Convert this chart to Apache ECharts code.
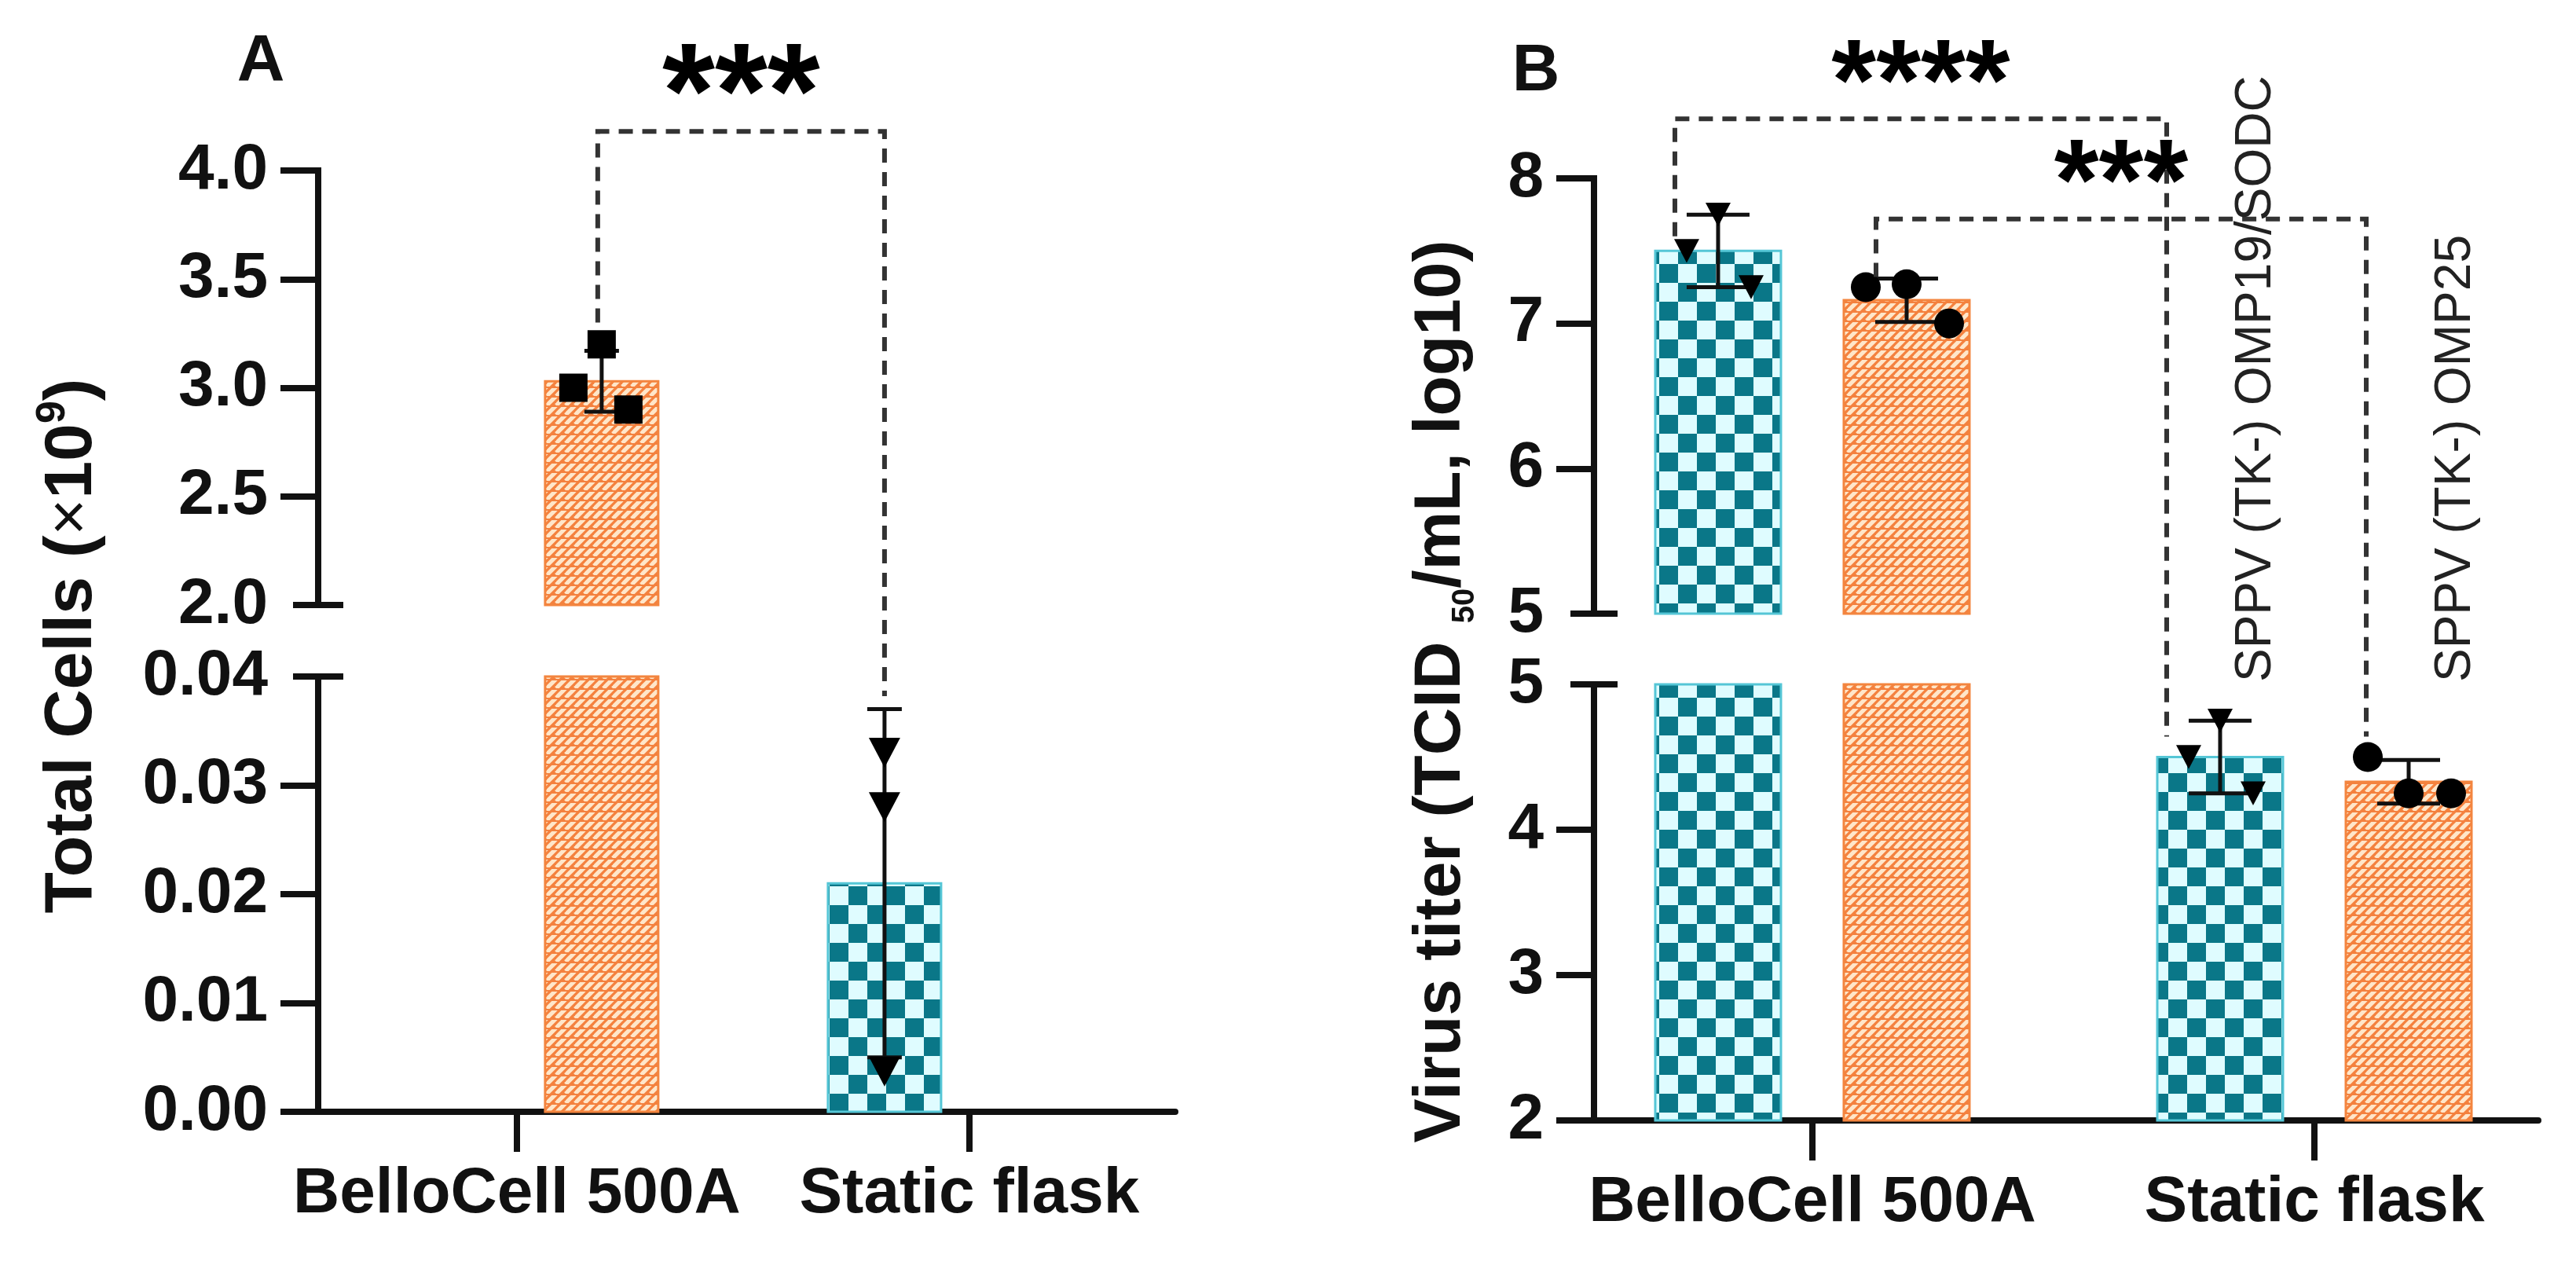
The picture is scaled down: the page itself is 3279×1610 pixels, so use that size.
<!DOCTYPE html>
<html>
<head>
<meta charset="utf-8">
<script src="https://cdn.jsdelivr.net/npm/echarts@6/dist/echarts.min.js"></script>
<style>
html,body{margin:0;padding:0;background:#ffffff;}
#c{width:3279px;height:1610px;}
</style>
</head>
<body>
<div id="c"></div>
<script>
// ---------------- DATA ----------------
const categories = ['BelloCell 500A', 'Static flask'];

// Panel A (series 0 = teal checker, series 1 = orange hatch)
const aUpperTicks = [2.0, 2.5, 3.0, 3.5, 4.0];
const aLowerTicks = [0.00, 0.01, 0.02, 0.03, 0.04];
const aTealMean = [null, 0.021];
const aTealSD = [null, 0.016];
const aTealPoints = [[], [0.033, 0.028, 0.0037]];
const aOrangeMean = [3.03, null];
const aOrangeSD = [0.14, null];
const aOrangePoints = [[3.0, 3.2, 2.9], []];

// Panel B
const bUpperTicks = [5, 6, 7, 8];
const bLowerTicks = [2, 3, 4, 5];
const bTealMean = [7.5, 4.5];
const bTealSD = [0.25, 0.25];
const bTealPoints = [[7.5, 7.75, 7.25], [4.5, 4.75, 4.25]];
const bOrangeMean = [7.16, 4.33];
const bOrangeSD = [0.15, 0.15];
const bOrangePoints = [[7.25, 7.27, 7.0], [4.5, 4.25, 4.25]];

const bStrainLabels = ['SPPV (TK-) OMP19/SODC', 'SPPV (TK-) OMP25'];
const aTitle = 'Total Cells';
const bTitle = 'Virus titer';
const sigA = ['***'];
const sigB = ['****', '***'];

// ---------------- STYLE ----------------
const FONT = '"Liberation Sans", Arial, sans-serif';
const INK = '#111111';

function makeChecker() {
  const s = 24, c = document.createElement('canvas');
  c.width = c.height = s * 2;
  const g = c.getContext('2d');
  g.fillStyle = '#dffcff'; g.fillRect(0, 0, 2 * s, 2 * s);
  g.fillStyle = '#0a7788'; g.fillRect(0, 0, s, s); g.fillRect(s, s, s, s);
  return c;
}
function makeHatch() {
  const p = 12, c = document.createElement('canvas');
  c.width = c.height = p;
  const g = c.getContext('2d');
  g.fillStyle = '#f4813e'; g.fillRect(0, 0, p, p);
  g.strokeStyle = '#ffe6c9'; g.lineWidth = 5.2;
  for (let k = 0; k <= 2; k++) {
    g.beginPath(); g.moveTo(k * p, 0); g.lineTo(k * p - p, p); g.stroke();
  }
  g.fillStyle = '#f4813e'; g.fillRect(0, 0, p, 2);
  return c;
}
const tealFill = { image: makeChecker(), repeat: 'repeat' };
const orangeFill = { image: makeHatch(), repeat: 'repeat' };

const panels = {
  A: { left: 405, width: 1091, upper: { top: 217, height: 553 }, lower: { top: 861, height: 554 },
       xMin: -0.439, xMax: 1.455, barW: 144, off: [-108, 108], capHalf: 22, axisCap: 32 },
  B: { left: 2029, width: 1202, upper: { top: 227, height: 554 }, lower: { top: 871, height: 555 },
       xMin: -0.435, xMax: 1.446, barW: 160, off: [-120, 120], capHalf: 40, axisCap: 30 }
};

// grid index: 0 A-upper, 1 A-lower, 2 B-upper, 3 B-lower
const grids = [
  { left: panels.A.left, width: panels.A.width, top: panels.A.upper.top, height: panels.A.upper.height },
  { left: panels.A.left, width: panels.A.width, top: panels.A.lower.top, height: panels.A.lower.height },
  { left: panels.B.left, width: panels.B.width, top: panels.B.upper.top, height: panels.B.upper.height },
  { left: panels.B.left, width: panels.B.width, top: panels.B.lower.top, height: panels.B.lower.height }
];
const ranges = [
  [aUpperTicks[0], aUpperTicks[aUpperTicks.length - 1]],
  [aLowerTicks[0], aLowerTicks[aLowerTicks.length - 1]],
  [bUpperTicks[0], bUpperTicks[bUpperTicks.length - 1]],
  [bLowerTicks[0], bLowerTicks[bLowerTicks.length - 1]]
];

function yAxisCfg(gi, ticks, tickVals, interval, fmt) {
  return {
    type: 'value', gridIndex: gi, min: ticks[0], max: ticks[ticks.length - 1], interval: interval,
    axisLine: { show: true, onZero: false, lineStyle: { color: INK, width: 8, cap: 'square' } },
    axisTick: { show: true, length: 48, customValues: tickVals, lineStyle: { color: INK, width: 8 } },
    axisLabel: { show: true, customValues: ticks, formatter: fmt, margin: 64,
      fontFamily: FONT, fontWeight: 'bold', fontSize: 82, color: INK },
    splitLine: { show: false }
  };
}
function xAxisCfg(gi, p, show) {
  return {
    type: 'value', gridIndex: gi, min: p.xMin, max: p.xMax, show: show,
    axisLine: { show: true, onZero: false, lineStyle: { color: INK, width: 8 } },
    axisTick: { show: true, length: 51, customValues: [0, 1], lineStyle: { color: INK, width: 8 } },
    axisLabel: { show: true, customValues: [0, 1], formatter: v => categories[Math.round(v)], margin: 64,
      fontFamily: FONT, fontWeight: 'bold', fontSize: 82, color: INK },
    splitLine: { show: false }
  };
}

function markerShape(kind, x, y, sz) {
  const st = { fill: '#000' };
  if (kind === 'square') return { type: 'rect', shape: { x: x - sz / 2, y: y - sz / 2, width: sz, height: sz }, style: st };
  if (kind === 'circle') return { type: 'circle', shape: { cx: x, cy: y, r: sz / 2 }, style: st };
  const h = sz * 0.95;
  return { type: 'polygon', shape: { points: [[x - sz / 2, y - h / 2], [x + sz / 2, y - h / 2], [x, y + h / 2]] }, style: st };
}

function groupSeries(gi, p, si, means, sds, points, jitter, marker, msize, fill, stroke) {
  const [yMin, yMax] = ranges[gi];
  const data = [];
  means.forEach((m, i) => { if (m !== null) data.push([i, m, sds[i]]); });
  return {
    type: 'custom', coordinateSystem: 'cartesian2d', xAxisIndex: gi, yAxisIndex: gi,
    silent: true, clip: false, data: data,
    renderItem: function (params, api) {
      const cat = api.value(0), mean = api.value(1), sd = api.value(2);
      const cx = api.coord([cat, yMin])[0] + p.off[si];
      const children = [];
      if (mean > yMin) {
        const yb = api.coord([cat, yMin])[1];
        const yt = api.coord([cat, Math.min(mean, yMax)])[1];
        children.push({ type: 'rect', shape: { x: cx - p.barW / 2, y: yt, width: p.barW, height: yb - yt },
          style: { fill: fill, stroke: stroke, lineWidth: 3 } });
      }
      const lo = mean - sd, hi = mean + sd;
      const a = Math.max(lo, yMin), b = Math.min(hi, yMax);
      const est = { stroke: '#111', lineWidth: 5 };
      if (b > a) {
        children.push({ type: 'line', shape: { x1: cx, y1: api.coord([cat, a])[1], x2: cx, y2: api.coord([cat, b])[1] }, style: est });
      }
      [lo, hi].forEach(v => {
        if (v >= yMin && v <= yMax) {
          const yy = api.coord([cat, v])[1];
          children.push({ type: 'line', shape: { x1: cx - p.capHalf, y1: yy, x2: cx + p.capHalf, y2: yy }, style: est });
        }
      });
      (points[cat] || []).forEach((v, j) => {
        if (v >= yMin && v <= yMax) {
          children.push(markerShape(marker, cx + jitter[j], api.coord([cat, v])[1], msize));
        }
      });
      return { type: 'group', children: children };
    }
  };
}

// axis break caps (T-shaped ends of each broken axis segment)
function capSeries(gi, p, capValue) {
  return {
    type: 'custom', coordinateSystem: 'cartesian2d', xAxisIndex: gi, yAxisIndex: gi,
    silent: true, clip: false, data: [[p.xMin, capValue]],
    renderItem: function (params, api) {
      const pt = api.coord([api.value(0), api.value(1)]);
      return { type: 'line', shape: { x1: pt[0] - p.axisCap, y1: pt[1], x2: pt[0] + p.axisCap, y2: pt[1] },
        style: { stroke: INK, lineWidth: 8 } };
    }
  };
}

const fmt1 = v => v.toFixed(1);
const fmt2 = v => v.toFixed(2);
const fmt0 = v => String(Math.round(v));

const option = {
  animation: false,
  backgroundColor: '#ffffff',
  grid: grids.map(g => Object.assign({ containLabel: false }, g)),
  xAxis: [
    xAxisCfg(0, panels.A, false), xAxisCfg(1, panels.A, true),
    xAxisCfg(2, panels.B, false), xAxisCfg(3, panels.B, true)
  ],
  yAxis: [
    yAxisCfg(0, aUpperTicks, aUpperTicks.slice(1), 0.5, fmt1),
    yAxisCfg(1, aLowerTicks, aLowerTicks.slice(0, -1), 0.01, fmt2),
    yAxisCfg(2, bUpperTicks, bUpperTicks.slice(1), 1, fmt0),
    yAxisCfg(3, bLowerTicks, bLowerTicks.slice(0, -1), 1, fmt0)
  ],
  series: [
    groupSeries(0, panels.A, 0, aTealMean, aTealSD, aTealPoints, [0, 0, 0], 'triangle', 40, tealFill, '#55c6d6'),
    groupSeries(1, panels.A, 0, aTealMean, aTealSD, aTealPoints, [0, 0, 0], 'triangle', 40, tealFill, '#55c6d6'),
    groupSeries(0, panels.A, 1, aOrangeMean, aOrangeSD, aOrangePoints, [-36, 0, 34], 'square', 36, orangeFill, '#f3853f'),
    groupSeries(1, panels.A, 1, aOrangeMean, aOrangeSD, aOrangePoints, [-36, 0, 34], 'square', 36, orangeFill, '#f3853f'),
    groupSeries(2, panels.B, 0, bTealMean, bTealSD, bTealPoints, [-40, 0, 42], 'triangle', 32, tealFill, '#55c6d6'),
    groupSeries(3, panels.B, 0, bTealMean, bTealSD, bTealPoints, [-40, 0, 42], 'triangle', 32, tealFill, '#55c6d6'),
    groupSeries(2, panels.B, 1, bOrangeMean, bOrangeSD, bOrangePoints, [-52, 0, 54], 'circle', 38, orangeFill, '#f3853f'),
    groupSeries(3, panels.B, 1, bOrangeMean, bOrangeSD, bOrangePoints, [-52, 0, 54], 'circle', 38, orangeFill, '#f3853f'),
    capSeries(0, panels.A, aUpperTicks[0]),
    capSeries(1, panels.A, aLowerTicks[aLowerTicks.length - 1]),
    capSeries(2, panels.B, bUpperTicks[0]),
    capSeries(3, panels.B, bLowerTicks[bLowerTicks.length - 1])
  ]
};

const chart = echarts.init(document.getElementById('c'), null, { renderer: 'canvas', width: 3279, height: 1610 });
chart.setOption(option);

// ---------------- ANNOTATIONS (positioned through the axes) ----------------
const toPx = (gi, x, y) => chart.convertToPixel({ gridIndex: gi }, [x, y]);
const brackets = [
  { text: sigA[0], size: 172, level: [0, 4.18], left: { gi: 0, p: panels.A, cat: 0, s: 1, y: 3.30, dx: -5 },
    right: { gi: 1, p: panels.A, cat: 1, s: 0, y: 0.0382, dx: 0 } },
  { text: sigB[0], size: 146, level: [2, 8.41], left: { gi: 2, p: panels.B, cat: 0, s: 0, y: 7.60, dx: -55 },
    right: { gi: 3, p: panels.B, cat: 1, s: 0, y: 4.64, dx: -68 } },
  { text: sigB[1], size: 146, level: [2, 7.72], left: { gi: 2, p: panels.B, cat: 0, s: 1, y: 7.32, dx: -39 },
    right: { gi: 3, p: panels.B, cat: 1, s: 1, y: 4.64, dx: -54 } }
];
const graphics = [];
brackets.forEach(b => {
  const yl = toPx(b.level[0], 0, b.level[1])[1];
  const L = toPx(b.left.gi, b.left.cat, b.left.y), R = toPx(b.right.gi, b.right.cat, b.right.y);
  const xl = L[0] + b.left.p.off[b.left.s] + b.left.dx;
  const xr = R[0] + b.right.p.off[b.right.s] + b.right.dx;
  graphics.push({ type: 'polyline', silent: true, z: 50,
    shape: { points: [[xl, L[1]], [xl, yl], [xr, yl], [xr, R[1]]] },
    style: { stroke: '#333', lineWidth: 6, lineDash: [18, 12], fill: null } });
  graphics.push({ type: 'text', silent: true, z: 51, x: (xl + xr) / 2, y: yl - 40,
    style: { text: b.text, fontFamily: FONT, fontWeight: 'bold', fontSize: b.size, fill: '#000',
      align: 'center', verticalAlign: 'middle' } });
});
// strain labels above the static-flask groups
bStrainLabels.forEach((t, s) => {
  const pt = toPx(3, 1, bLowerTicks[bLowerTicks.length - 1]);
  const dx = [46, 60][s];
  graphics.push({ type: 'text', silent: true, z: 52, x: pt[0] + panels.B.off[s] + dx, y: pt[1] - 3,
    rotation: Math.PI / 2,
    style: { text: t, fontFamily: FONT, fontSize: 64, fill: '#222', align: 'left', verticalAlign: 'middle' } });
});
// panel letters
graphics.push({ type: 'text', silent: true, x: 332, y: 80,
  style: { text: 'A', fontFamily: FONT, fontWeight: 'bold', fontSize: 84, fill: INK, align: 'center', verticalAlign: 'middle' } });
graphics.push({ type: 'text', silent: true, x: 1955, y: 92,
  style: { text: 'B', fontFamily: FONT, fontWeight: 'bold', fontSize: 84, fill: INK, align: 'center', verticalAlign: 'middle' } });
// axis titles
graphics.push({ type: 'text', silent: true, x: 92, y: 822, rotation: Math.PI / 2,
  style: { text: '{b|' + aTitle + ' (}{r|×}{b|10}{s|9}{b|)}', align: 'center', verticalAlign: 'middle', fill: INK,
    rich: {
      b: { fontFamily: FONT, fontWeight: 'bold', fontSize: 86, lineHeight: 100, fill: INK },
      r: { fontFamily: FONT, fontWeight: 'normal', fontSize: 80, lineHeight: 100, fill: INK },
      s: { fontFamily: FONT, fontWeight: 'bold', fontSize: 52, lineHeight: 100, verticalAlign: 'top', fill: INK }
    } } });
graphics.push({ type: 'text', silent: true, x: 1835, y: 880, rotation: Math.PI / 2,
  style: { text: '{b|' + bTitle + ' (TCID }{s|50}{b|/mL, log10)}', align: 'center', verticalAlign: 'middle', fill: INK,
    rich: {
      b: { fontFamily: FONT, fontWeight: 'bold', fontSize: 84, lineHeight: 100, fill: INK },
      s: { fontFamily: FONT, fontWeight: 'bold', fontSize: 40, lineHeight: 100, verticalAlign: 'bottom', fill: INK }
    } } });
chart.setOption({ graphic: graphics });
</script>
</body>
</html>
